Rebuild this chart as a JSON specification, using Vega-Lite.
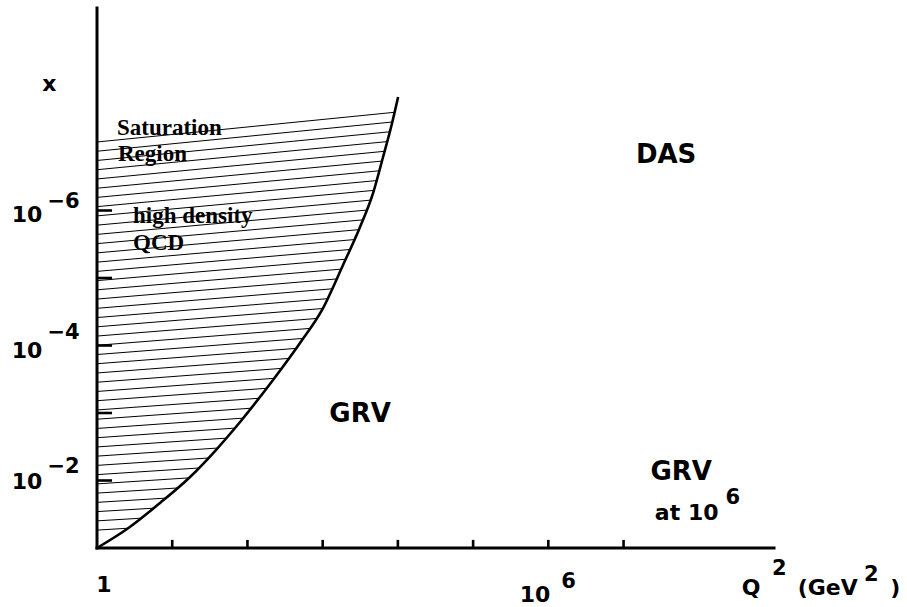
{
  "$schema": "https://vega.github.io/schema/vega-lite/v6.json",
  "width": 677,
  "height": 540,
  "autosize": {"type": "none"},
  "padding": {"left": 97, "top": 8, "right": 133, "bottom": 59},
  "background": "white",
  "config": {"view": {"stroke": null}},
  "datasets": {
    "boundary": [
      {"log10_Q2": 0, "log10_x": -1},
      {"log10_Q2": 0.399, "log10_x": -1.281},
      {"log10_Q2": 0.838, "log10_x": -1.667},
      {"log10_Q2": 1.237, "log10_x": -2.052},
      {"log10_Q2": 1.569, "log10_x": -2.437},
      {"log10_Q2": 1.902, "log10_x": -2.867},
      {"log10_Q2": 2.34, "log10_x": -3.489},
      {"log10_Q2": 2.699, "log10_x": -4.037},
      {"log10_Q2": 2.992, "log10_x": -4.526},
      {"log10_Q2": 3.271, "log10_x": -5.193},
      {"log10_Q2": 3.497, "log10_x": -5.756},
      {"log10_Q2": 3.67, "log10_x": -6.259},
      {"log10_Q2": 3.803, "log10_x": -6.793},
      {"log10_Q2": 3.923, "log10_x": -7.296},
      {"log10_Q2": 4.003, "log10_x": -7.681}
    ],
    "hatch": [
      {"log10_Q2": 0, "log10_x": -7.015, "log10_Q2_end": 3.956, "log10_x_end": -7.455},
      {"log10_Q2": 0, "log10_x": -6.878, "log10_Q2_end": 3.926, "log10_x_end": -7.311},
      {"log10_Q2": 0, "log10_x": -6.741, "log10_Q2_end": 3.892, "log10_x_end": -7.166},
      {"log10_Q2": 0, "log10_x": -6.604, "log10_Q2_end": 3.858, "log10_x_end": -7.021},
      {"log10_Q2": 0, "log10_x": -6.467, "log10_Q2_end": 3.823, "log10_x_end": -6.877},
      {"log10_Q2": 0, "log10_x": -6.33, "log10_Q2_end": 3.789, "log10_x_end": -6.732},
      {"log10_Q2": 0, "log10_x": -6.194, "log10_Q2_end": 3.753, "log10_x_end": -6.588},
      {"log10_Q2": 0, "log10_x": -6.057, "log10_Q2_end": 3.715, "log10_x_end": -6.443},
      {"log10_Q2": 0, "log10_x": -5.92, "log10_Q2_end": 3.68, "log10_x_end": -6.298},
      {"log10_Q2": 0, "log10_x": -5.783, "log10_Q2_end": 3.633, "log10_x_end": -6.153},
      {"log10_Q2": 0, "log10_x": -5.646, "log10_Q2_end": 3.584, "log10_x_end": -6.006},
      {"log10_Q2": 0, "log10_x": -5.509, "log10_Q2_end": 3.533, "log10_x_end": -5.861},
      {"log10_Q2": 0, "log10_x": -5.372, "log10_Q2_end": 3.48, "log10_x_end": -5.716},
      {"log10_Q2": 0, "log10_x": -5.235, "log10_Q2_end": 3.418, "log10_x_end": -5.569},
      {"log10_Q2": 0, "log10_x": -5.098, "log10_Q2_end": 3.356, "log10_x_end": -5.422},
      {"log10_Q2": 0, "log10_x": -4.961, "log10_Q2_end": 3.294, "log10_x_end": -5.277},
      {"log10_Q2": 0, "log10_x": -4.825, "log10_Q2_end": 3.234, "log10_x_end": -5.13},
      {"log10_Q2": 0, "log10_x": -4.688, "log10_Q2_end": 3.177, "log10_x_end": -4.985},
      {"log10_Q2": 0, "log10_x": -4.551, "log10_Q2_end": 3.117, "log10_x_end": -4.839},
      {"log10_Q2": 0, "log10_x": -4.414, "log10_Q2_end": 3.06, "log10_x_end": -4.693},
      {"log10_Q2": 0, "log10_x": -4.277, "log10_Q2_end": 3.001, "log10_x_end": -4.548},
      {"log10_Q2": 0, "log10_x": -4.14, "log10_Q2_end": 2.916, "log10_x_end": -4.4},
      {"log10_Q2": 0, "log10_x": -4.003, "log10_Q2_end": 2.828, "log10_x_end": -4.253},
      {"log10_Q2": 0, "log10_x": -3.866, "log10_Q2_end": 2.741, "log10_x_end": -4.105},
      {"log10_Q2": 0, "log10_x": -3.73, "log10_Q2_end": 2.646, "log10_x_end": -3.957},
      {"log10_Q2": 0, "log10_x": -3.593, "log10_Q2_end": 2.551, "log10_x_end": -3.809},
      {"log10_Q2": 0, "log10_x": -3.456, "log10_Q2_end": 2.453, "log10_x_end": -3.661},
      {"log10_Q2": 0, "log10_x": -3.319, "log10_Q2_end": 2.356, "log10_x_end": -3.514},
      {"log10_Q2": 0, "log10_x": -3.182, "log10_Q2_end": 2.254, "log10_x_end": -3.366},
      {"log10_Q2": 0, "log10_x": -3.045, "log10_Q2_end": 2.149, "log10_x_end": -3.218},
      {"log10_Q2": 0, "log10_x": -2.908, "log10_Q2_end": 2.045, "log10_x_end": -3.071},
      {"log10_Q2": 0, "log10_x": -2.771, "log10_Q2_end": 1.943, "log10_x_end": -2.924},
      {"log10_Q2": 0, "log10_x": -2.634, "log10_Q2_end": 1.831, "log10_x_end": -2.776},
      {"log10_Q2": 0, "log10_x": -2.497, "log10_Q2_end": 1.717, "log10_x_end": -2.628},
      {"log10_Q2": 0, "log10_x": -2.361, "log10_Q2_end": 1.604, "log10_x_end": -2.481},
      {"log10_Q2": 0, "log10_x": -2.224, "log10_Q2_end": 1.48, "log10_x_end": -2.333},
      {"log10_Q2": 0, "log10_x": -2.087, "log10_Q2_end": 1.352, "log10_x_end": -2.185},
      {"log10_Q2": 0, "log10_x": -1.95, "log10_Q2_end": 1.221, "log10_x_end": -2.039},
      {"log10_Q2": 0, "log10_x": -1.813, "log10_Q2_end": 1.068, "log10_x_end": -1.889},
      {"log10_Q2": 0, "log10_x": -1.676, "log10_Q2_end": 0.914, "log10_x_end": -1.739},
      {"log10_Q2": 0, "log10_x": -1.539, "log10_Q2_end": 0.75, "log10_x_end": -1.59},
      {"log10_Q2": 0, "log10_x": -1.402, "log10_Q2_end": 0.582, "log10_x_end": -1.441},
      {"log10_Q2": 0, "log10_x": -1.265, "log10_Q2_end": 0.41, "log10_x_end": -1.293}
    ],
    "frame": [
      {"part": "axis", "log10_Q2": 0, "log10_x": -1, "log10_Q2_end": 0, "log10_x_end": -9},
      {"part": "axis", "log10_Q2": 0, "log10_x": -1, "log10_Q2_end": 9, "log10_x_end": -1},
      {"part": "ytick", "log10_Q2": 0, "log10_x": -2, "log10_Q2_end": 0.2, "log10_x_end": -2},
      {"part": "ytick", "log10_Q2": 0, "log10_x": -3, "log10_Q2_end": 0.2, "log10_x_end": -3},
      {"part": "ytick", "log10_Q2": 0, "log10_x": -4, "log10_Q2_end": 0.2, "log10_x_end": -4},
      {"part": "ytick", "log10_Q2": 0, "log10_x": -5, "log10_Q2_end": 0.2, "log10_x_end": -5},
      {"part": "ytick", "log10_Q2": 0, "log10_x": -6, "log10_Q2_end": 0.2, "log10_x_end": -6},
      {"part": "xtick", "log10_Q2": 1, "log10_x": -1, "log10_Q2_end": 1, "log10_x_end": -1.12},
      {"part": "xtick", "log10_Q2": 2, "log10_x": -1, "log10_Q2_end": 2, "log10_x_end": -1.12},
      {"part": "xtick", "log10_Q2": 3, "log10_x": -1, "log10_Q2_end": 3, "log10_x_end": -1.12},
      {"part": "xtick", "log10_Q2": 4, "log10_x": -1, "log10_Q2_end": 4, "log10_x_end": -1.12},
      {"part": "xtick", "log10_Q2": 5, "log10_x": -1, "log10_Q2_end": 5, "log10_x_end": -1.12},
      {"part": "xtick", "log10_Q2": 6, "log10_x": -1, "log10_Q2_end": 6, "log10_x_end": -1.12},
      {"part": "xtick", "log10_Q2": 7, "log10_x": -1, "log10_Q2_end": 7, "log10_x_end": -1.12}
    ],
    "labels": [
      {"kind": "base", "text": "x", "log10_Q2": -0.632, "log10_x": -7.87},
      {"kind": "base", "text": "10", "log10_Q2": -0.931, "log10_x": -5.926},
      {"kind": "base", "text": "10", "log10_Q2": -0.931, "log10_x": -3.919},
      {"kind": "base", "text": "10", "log10_Q2": -0.931, "log10_x": -1.985},
      {"kind": "exponent", "text": "−6", "log10_Q2": -0.445, "log10_x": -6.119},
      {"kind": "exponent", "text": "−4", "log10_Q2": -0.445, "log10_x": -4.178},
      {"kind": "exponent", "text": "−2", "log10_Q2": -0.445, "log10_x": -2.193},
      {"kind": "base", "text": "1", "log10_Q2": 0.093, "log10_x": -0.452},
      {"kind": "base", "text": "10", "log10_Q2": 5.824, "log10_x": -0.31},
      {"kind": "exponent", "text": "6", "log10_Q2": 6.27, "log10_x": -0.5},
      {"kind": "base", "text": "Q", "log10_Q2": 8.697, "log10_x": -0.41},
      {"kind": "exponent", "text": "2", "log10_Q2": 9.069, "log10_x": -0.696},
      {"kind": "base", "text": "(GeV", "log10_Q2": 9.714, "log10_x": -0.41},
      {"kind": "exponent", "text": "2", "log10_Q2": 10.293, "log10_x": -0.6},
      {"kind": "base", "text": ")", "log10_Q2": 10.612, "log10_x": -0.41},
      {"kind": "region", "text": "GRV", "log10_Q2": 3.497, "log10_x": -2.985},
      {"kind": "region", "text": "DAS", "log10_Q2": 7.566, "log10_x": -6.822},
      {"kind": "region", "text": "GRV", "log10_Q2": 7.766, "log10_x": -2.133},
      {"kind": "base", "text": "at 10", "log10_Q2": 7.839, "log10_x": -1.52},
      {"kind": "exponent", "text": "6", "log10_Q2": 8.451, "log10_x": -1.748},
      {"kind": "serif", "text": "Saturation", "log10_Q2": 0.266, "log10_x": -7.119},
      {"kind": "serif", "text": "Region", "log10_Q2": 0.279, "log10_x": -6.733},
      {"kind": "serif", "text": "high density", "log10_Q2": 0.479, "log10_x": -5.815},
      {"kind": "serif", "text": "QCD", "log10_Q2": 0.479, "log10_x": -5.415}
    ]
  },
  "encoding": {
    "x": {"field": "log10_Q2", "type": "quantitative", "scale": {"domain": [0, 9], "nice": false, "zero": false}, "axis": null},
    "y": {"field": "log10_x", "type": "quantitative", "scale": {"domain": [-9, -1], "nice": false, "zero": false, "reverse": true}, "axis": null}
  },
  "layer": [
    {
      "data": {"name": "hatch"},
      "mark": {"type": "rule", "color": "black", "strokeWidth": 1},
      "encoding": {"x2": {"field": "log10_Q2_end"}, "y2": {"field": "log10_x_end"}}
    },
    {
      "data": {"name": "boundary"},
      "mark": {"type": "line", "color": "black", "strokeWidth": 2.6, "interpolate": "monotone"},
      "encoding": {}
    },
    {
      "data": {"name": "frame"},
      "transform": [{"filter": "datum.part === 'axis'"}],
      "mark": {"type": "rule", "color": "black", "strokeWidth": 3, "strokeCap": "square"},
      "encoding": {"x2": {"field": "log10_Q2_end"}, "y2": {"field": "log10_x_end"}}
    },
    {
      "data": {"name": "frame"},
      "transform": [{"filter": "datum.part !== 'axis'"}],
      "mark": {"type": "rule", "color": "black", "strokeWidth": 2.6},
      "encoding": {"x2": {"field": "log10_Q2_end"}, "y2": {"field": "log10_x_end"}}
    },
    {
      "data": {"name": "labels"},
      "transform": [{"filter": "datum.kind === 'base'"}],
      "mark": {"type": "text", "font": "DejaVu Sans", "fontWeight": "bold", "fontSize": 22, "align": "center", "baseline": "middle", "color": "black"},
      "encoding": {"text": {"field": "text"}}
    },
    {
      "data": {"name": "labels"},
      "transform": [{"filter": "datum.kind === 'exponent'"}],
      "mark": {"type": "text", "font": "DejaVu Sans", "fontWeight": "bold", "fontSize": 21, "align": "center", "baseline": "middle", "color": "black"},
      "encoding": {"text": {"field": "text"}}
    },
    {
      "data": {"name": "labels"},
      "transform": [{"filter": "datum.kind === 'region'"}],
      "mark": {"type": "text", "font": "DejaVu Sans", "fontWeight": "bold", "fontSize": 26, "align": "center", "baseline": "middle", "color": "black"},
      "encoding": {"text": {"field": "text"}}
    },
    {
      "data": {"name": "labels"},
      "transform": [{"filter": "datum.kind === 'serif'"}],
      "mark": {"type": "text", "font": "Liberation Serif", "fontWeight": "bold", "fontSize": 23, "align": "left", "baseline": "alphabetic", "color": "black"},
      "encoding": {"text": {"field": "text"}}
    }
  ]
}
